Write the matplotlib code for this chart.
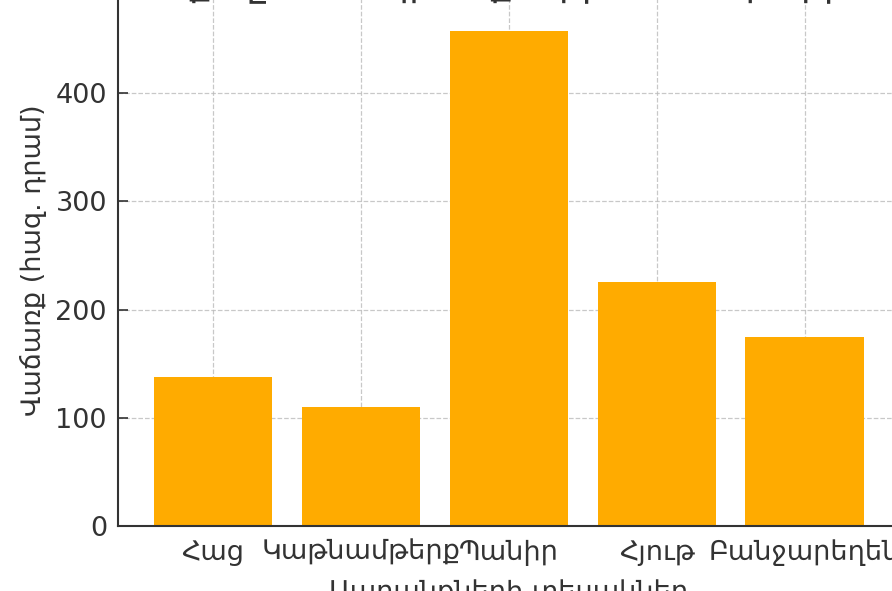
import matplotlib.pyplot as plt

# data
categories = ['Հաց', 'Կաթնամթերք', 'Պանիր', 'Հյութ', 'Բանջարեղեն']
sales = [138, 110, 458, 225, 175]

title = 'Վաճառքն ըստ ապրանքների տեսակների'
xlabel = 'Ապրանքների տեսակներ'
ylabel = 'Վաճառք (հազ. դրամ)'

plt.rcParams['font.family'] = ['DejaVu Sans']

fig = plt.figure(figsize=(8.92, 5.91), dpi=100)
# the reference is cropped: axes run past the top and right edges
ax = fig.add_axes([0.1323, 0.1105, 0.876, 0.898])

x = range(len(categories))
ax.bar(x, sales, width=0.8, color='#ffab00', zorder=2)

ax.set_xticks(list(x))
ax.set_xticklabels(categories, fontsize=19.5, color='#333333')
ax.set_yticks([0, 100, 200, 300, 400])
ax.set_ylim(0, 491)
ax.tick_params(axis='both', direction='in', length=7, width=1.2, colors='#333333')
ax.tick_params(axis='y', labelsize=19.5, pad=8)
ax.tick_params(axis='x', pad=10)

ax.set_xlabel(xlabel, fontsize=19.5, color='#333333', labelpad=9)
ax.set_ylabel(ylabel, fontsize=19.5, color='#333333', labelpad=6)

# title sits almost entirely above the visible area
fig.text(0.5, 1.0075, title, fontsize=26, color='#333333', ha='center', va='baseline')

ax.grid(True, linestyle='--', color='#bbbbbb', linewidth=0.9, alpha=0.8, zorder=0)
ax.set_axisbelow(True)

ax.spines['top'].set_visible(False)
for side in ['left', 'bottom']:
    ax.spines[side].set_color('#333333')
    ax.spines[side].set_linewidth(1.5)

plt.savefig('out.png', dpi=100)
